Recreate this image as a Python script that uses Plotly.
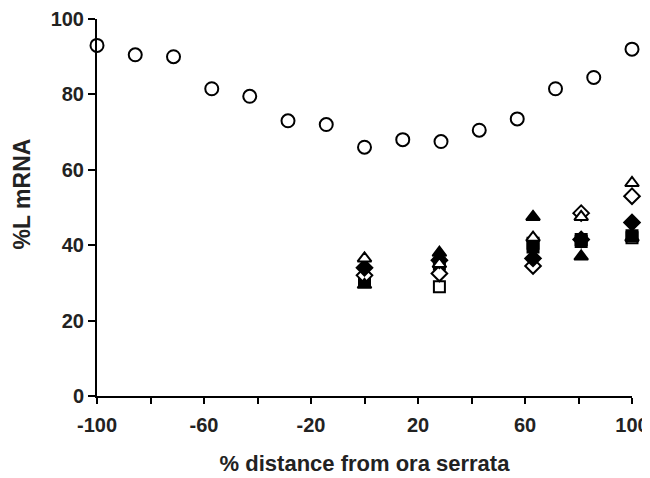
import plotly.graph_objects as go

# Open circles series
circ_x = [-100, -85.7, -71.4, -57.1, -42.9, -28.6, -14.3, 0, 14.3, 28.6, 42.9, 57.1, 71.4, 85.7, 100]
circ_y = [93, 90.5, 90, 81.5, 79.5, 73, 72, 66, 68, 67.5, 70.5, 73.5, 81.5, 84.5, 92]

# Clustered series
grp_x = [0, 28, 63, 81, 100]
filled_tri = [29.5, 38, 47.5, 37, 42]
open_tri = [36.5, 35, 42, 47.5, 56.5]
filled_dia = [34, 36, 36.5, 41.5, 46]
open_dia = [32, 32.5, 34.5, 48.5, 53]
filled_sq = [30.5, 35, 39.5, 41.5, 42.5]
open_sq = [31, 29, 40.5, 41, 42]

x_tickvals = [-100, -80, -60, -40, -20, 0, 20, 40, 60, 80, 100]
x_ticktext = ["-100", "", "-60", "", "-20", "", "20", "", "60", "", "100"]
y_tickvals = [0, 20, 40, 60, 80, 100]

fig = go.Figure()

def add(x, y, symbol, filled, size=12):
    fig.add_trace(go.Scatter(
        x=x, y=y, mode="markers", cliponaxis=False, showlegend=False,
        marker=dict(symbol=symbol, size=size,
                    color="black" if filled else "white",
                    line=dict(color="black", width=2))))

add(circ_x, circ_y, "circle", False, 13)
add(grp_x, open_sq, "square", False, 11)
add(grp_x, filled_sq, "square", True, 11)
add(grp_x, open_dia, "diamond", False, 12)
add(grp_x, filled_dia, "diamond", True, 12)
add(grp_x, open_tri, "triangle-up", False, 12)
add(grp_x, filled_tri, "triangle-up", True, 12)

fam = "Liberation Sans, Arial, sans-serif"
tickfont = dict(family=fam, size=20, color="#222", weight="bold")

fig.update_layout(
    width=642, height=470,
    margin=dict(l=89, r=18, t=11, b=82),
    paper_bgcolor="white", plot_bgcolor="white",
    font=dict(family=fam, size=20, color="#222"),
    xaxis=dict(range=[-100, 100], tickvals=x_tickvals, ticktext=x_ticktext,
               automargin=False,
               showgrid=False, zeroline=False, showline=True, linecolor="black",
               linewidth=2, ticks="outside", ticklen=6, tickwidth=2, tickcolor="black",
               tickfont=tickfont, ticklabelstandoff=4,
               title=dict(text="<b>% distance from ora serrata</b>", standoff=21,
                          font=dict(family=fam, size=22, color="#222"))),
    yaxis=dict(range=[0, 100], tickvals=y_tickvals,
               automargin=False,
               showgrid=False, zeroline=False, showline=True, linecolor="black",
               linewidth=2, ticks="outside", ticklen=7, tickwidth=2, tickcolor="black",
               tickfont=tickfont),
    annotations=[dict(text="<b>%L mRNA</b>", xref="paper", yref="paper",
                      x=-0.14, y=0.535, xanchor="center", yanchor="middle",
                      textangle=-90, showarrow=False,
                      font=dict(family=fam, size=23, color="#222"))],
)

fig.write_html("out.html")
